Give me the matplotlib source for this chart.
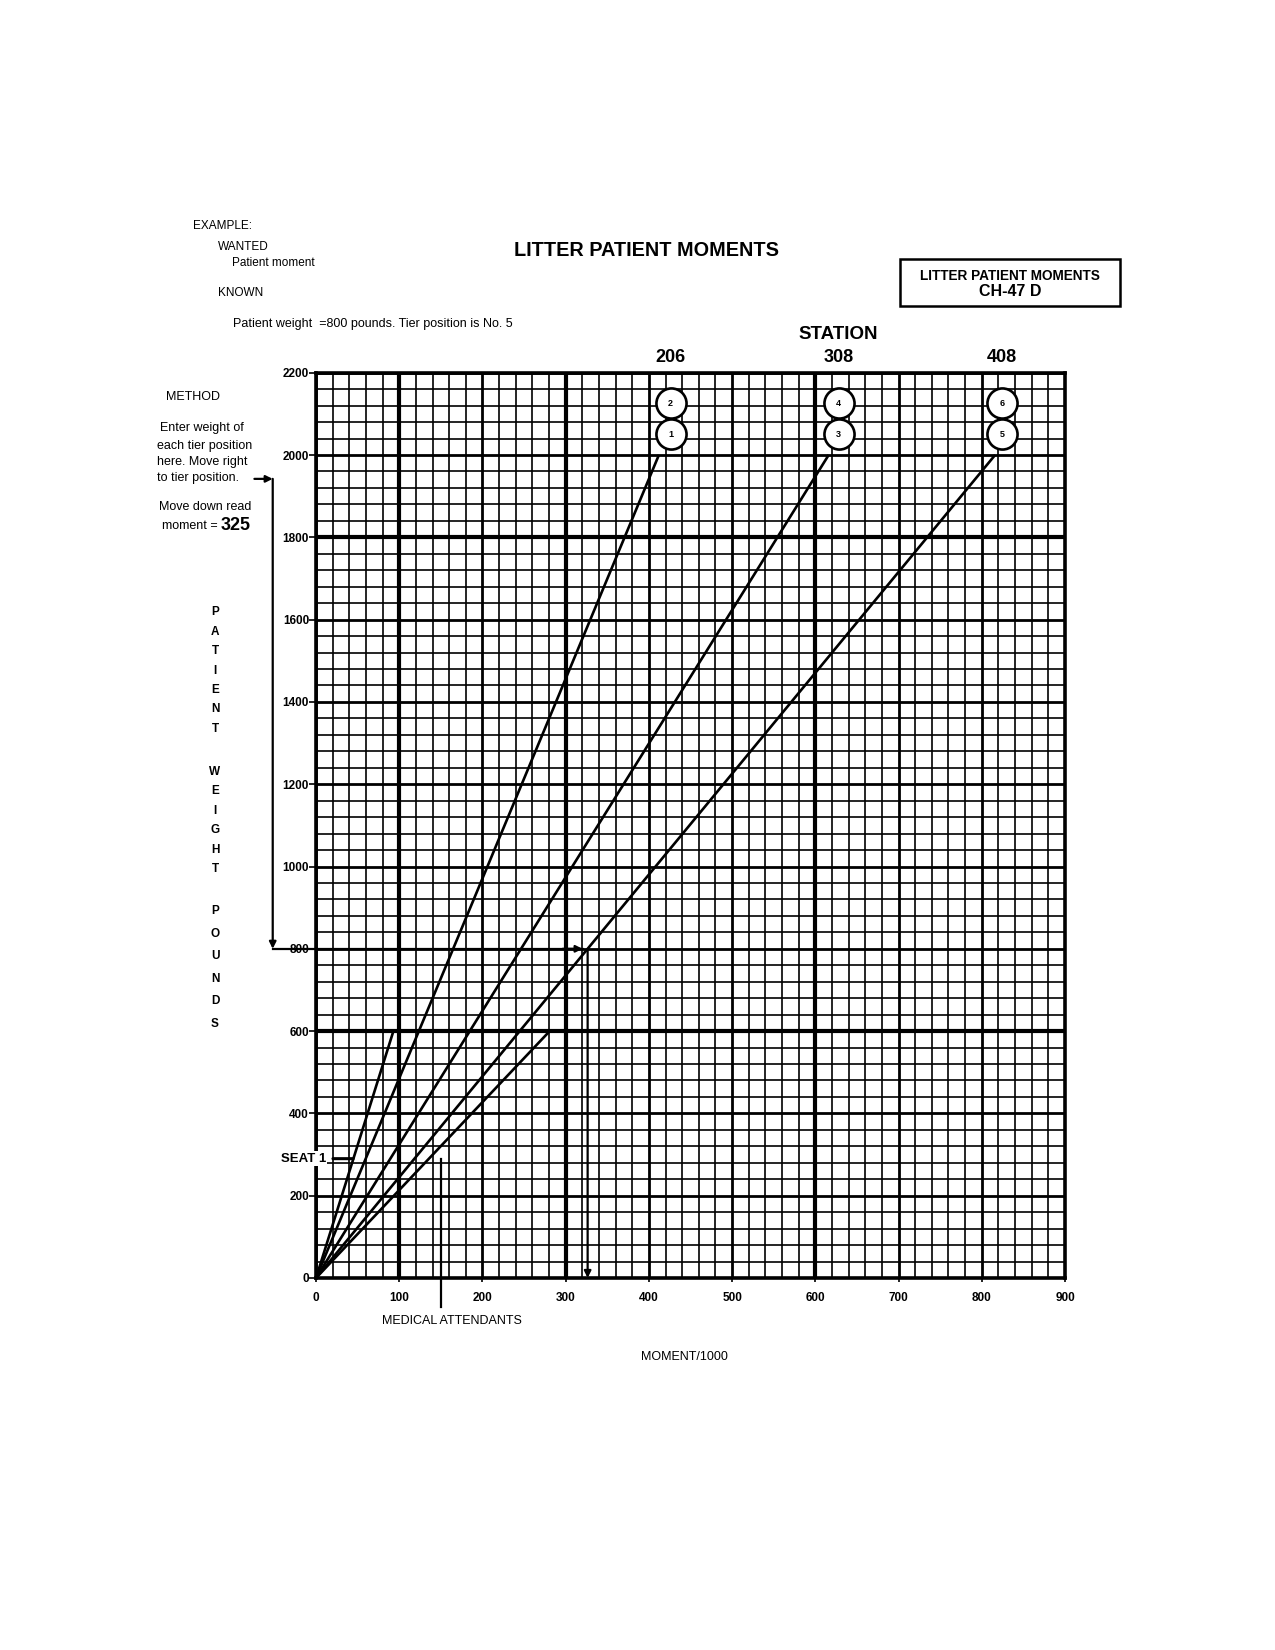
import numpy as np
import matplotlib as mpl
mpl.use("Agg")
import matplotlib.pyplot as plt
from matplotlib.patches import Rectangle

mpl.rcParams['font.family'] = ['Liberation Sans', 'DejaVu Sans']

# data
stations = [206, 308, 408]          # tier stations
tier_max_weight = 2000
seat1_station = 155
attendant_station = 468
low_max_weight = 600
circle_labels = ["1", "2", "3", "4", "5", "6"]
circle_x = [426, 426, 628, 628, 824, 824]
circle_y = [2050, 2126, 2050, 2126, 2050, 2126]
x_ticks = np.arange(0, 901, 100)
y_ticks = np.arange(0, 2201, 200)
example_weight = 800
example_station = 408

W, H = 1275, 1650
fig = plt.figure(figsize=(12.75, 16.5), dpi=100)

def fx(px):
    return px / W

def fy(py):
    return 1 - py / H

ax = fig.add_axes([fx(316), fy(1278), fx(1065) - fx(316), fy(372.7) - fy(1278)])
ax.set_xlim(0, 900)
ax.set_ylim(0, 2200)

# grid
ax.set_xticks(x_ticks)
ax.set_yticks(y_ticks)
ax.set_xticks(np.arange(0, 901, 20), minor=True)
ax.set_yticks(np.arange(0, 2201, 40), minor=True)
ax.grid(which="minor", color="black", lw=1.2)
ax.grid(which="major", color="black", lw=2.0)
for v in [100, 300, 600]:
    ax.axvline(v, color="black", lw=3.0)
for v in [600, 1800]:
    ax.axhline(v, color="black", lw=3.0)
ax.set_axisbelow(True)
for s in ax.spines.values():
    s.set_linewidth(2.6)

ax.tick_params(axis="y", which="major", direction="out", length=5, width=1.2, pad=0, labelsize=8.5)
ax.tick_params(axis="x", which="major", direction="out", length=3, width=1.2, pad=7, labelsize=8.5)
ax.tick_params(which="minor", length=0)
ax.set_xticklabels([str(v) for v in x_ticks], fontweight="bold")
ax.set_yticklabels([str(v) for v in y_ticks], fontweight="bold")

# moment lines
w = np.array([0, tier_max_weight])
for st in stations:
    ax.plot(w * st / 1000, w, color="black", lw=1.9, solid_capstyle="butt")
w2 = np.array([0, low_max_weight])
for st in [seat1_station, attendant_station]:
    ax.plot(w2 * st / 1000, w2, color="black", lw=1.9)

# tier circles
ax.scatter(circle_x, circle_y, s=470, facecolor="white", edgecolor="black",
           linewidths=1.9, zorder=5, clip_on=False)
for lab, cx, cy in zip(circle_labels, circle_x, circle_y):
    ax.text(cx, cy, lab, ha="center", va="center", fontsize=6.5, fontweight="bold", zorder=6)

# station labels
for st, cx in zip(stations, [426, 628, 824]):
    ax.text(cx, 2238, str(st), ha="center", va="center", fontsize=13, fontweight="bold", clip_on=False)
ax.text(627, 2292, "STATION", ha="center", va="center", fontsize=13.5, fontweight="bold", clip_on=False)

# example path
moment = example_weight * example_station / 1000
ap = dict(arrowstyle="-|>", color="black", lw=1.6, mutation_scale=10, shrinkA=0, shrinkB=0)
ax.annotate("", xy=(-52, 1942), xytext=(-74, 1942), arrowprops=ap, annotation_clip=False)
ax.annotate("", xy=(-52, example_weight), xytext=(-52, 1942), arrowprops=ap, annotation_clip=False)
ax.plot([-52, moment - 6], [example_weight, example_weight], color="black", lw=1.6, clip_on=False)
ax.annotate("", xy=(moment - 6, example_weight), xytext=(moment - 30, example_weight),
            arrowprops=ap, annotation_clip=False)
ax.annotate("", xy=(moment, 0), xytext=(moment, example_weight), arrowprops=ap, annotation_clip=False)

# seat 1 and medical attendants
ax.text(12, 290, "SEAT 1", ha="right", va="center", fontsize=9.5, fontweight="bold",
        bbox=dict(facecolor="white", edgecolor="none", pad=1), clip_on=False, zorder=7)
ax.annotate("", xy=(48, 290), xytext=(17, 290), arrowprops=dict(arrowstyle="-", lw=2.2, color="black"),
            annotation_clip=False, zorder=7)
ax.plot([150, 150], [-70, 290], color="black", lw=1.6, clip_on=False)

# header texts
fig.text(fx(193), fy(226), "EXAMPLE:", fontsize=8.5, va="center")
fig.text(fx(218), fy(247), "WANTED", fontsize=8.5, va="center")
fig.text(fx(232), fy(263), "Patient moment", fontsize=8.5, va="center")
fig.text(fx(218), fy(293), "KNOWN", fontsize=8.5, va="center")
fig.text(fx(233), fy(324), "Patient weight  =800 pounds. Tier position is No. 5", fontsize=9, va="center")
fig.text(fx(646), fy(250), "LITTER PATIENT MOMENTS", fontsize=14.3, fontweight="bold",
         ha="center", va="center")

fig.patches.append(Rectangle((fx(900), fy(306)), fx(1120) - fx(900), fy(259) - fy(306),
                             transform=fig.transFigure, fill=False, lw=1.8, edgecolor="black"))
fig.text(fx(1010), fy(276), "LITTER PATIENT MOMENTS", fontsize=9.8, fontweight="bold", ha="center", va="center")
fig.text(fx(1010), fy(292), "CH-47 D", fontsize=11.5, fontweight="bold", ha="center", va="center")

# method
fig.text(fx(166), fy(397), "METHOD", fontsize=9, va="center")
fig.text(fx(160), fy(428), "Enter weight of", fontsize=9, va="center")
fig.text(fx(157), fy(446), "each tier position", fontsize=9, va="center")
fig.text(fx(157), fy(462), "here. Move right", fontsize=9, va="center")
fig.text(fx(157), fy(478), "to tier position.", fontsize=9, va="center")
fig.text(fx(159), fy(507), "Move down read", fontsize=9, va="center")
fig.text(fx(162), fy(526), "moment =", fontsize=9, va="center")
fig.text(fx(221), fy(525), "325", fontsize=13, fontweight="bold", va="center")

# vertical axis title
groups = [("PATIENT", 612, 19.5), ("WEIGHT", 772, 19.4), ("POUNDS", 911, 22.6)]
for word, y0, step in groups:
    for i, ch in enumerate(word):
        fig.text(fx(215), fy(y0 + i * step), ch, fontsize=8.5, fontweight="bold", ha="center", va="center")

fig.text(fx(452), fy(1321), "MEDICAL ATTENDANTS", fontsize=9, ha="center", va="center")
fig.text(fx(684), fy(1357), "MOMENT/1000", fontsize=9, ha="center", va="center")

fig.savefig("out.png", dpi=100, facecolor="white")
